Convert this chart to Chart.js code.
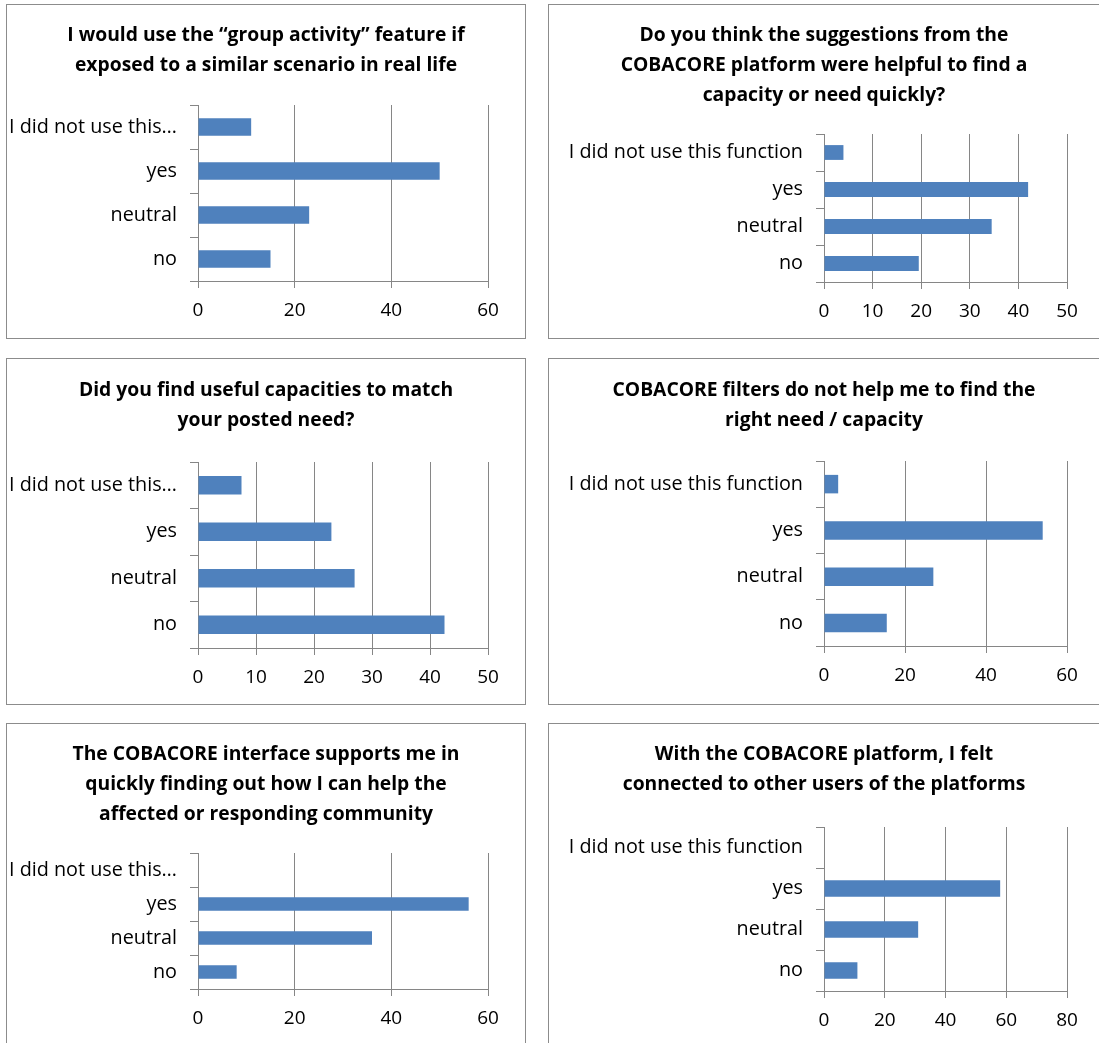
<!DOCTYPE html>
<html>
<head>
<meta charset="utf-8">
<script src="https://cdn.jsdelivr.net/npm/chart.js@4.4.1/dist/chart.umd.min.js"></script>
<style>
    body { margin: 0; background: #ffffff; width: 1099px; height: 1043px; overflow: hidden; position: relative; }
    .panel { position: absolute; border: 1px solid #8c8c8c; box-sizing: border-box; background: #fff; }
    .panel canvas { display: block; }
</style>
</head>
<body>
<div id="wrap"></div>
<script>
// categories (top to bottom as drawn)
let labelsFull = ["I did not use this function", "yes", "neutral", "no"];
let labelsShort = ["I did not use this\u2026", "yes", "neutral", "no"];

// series values
let groupActivity = [11, 50, 23, 15];
let suggestionsHelpful = [4, 42, 34.5, 19.5];
let usefulCapacities = [7.5, 23, 27, 42.5];
let filtersNoHelp = [3.5, 54, 27, 15.5];
let interfaceSupports = [0, 56, 36, 8];
let feltConnected = [0, 58, 31, 11];

// x axis ticks: [max, step]
let ticksGroup = [60, 20];
let ticksSuggest = [50, 10];
let ticksUseful = [50, 10];
let ticksFilters = [60, 20];
let ticksInterface = [60, 20];
let ticksConnected = [80, 20];

let titles = [
    ["I would use the \u201cgroup activity\u201d feature if", "exposed to a similar scenario in real life"],
    ["Do you think the suggestions from the", "COBACORE platform were helpful to find a", "capacity or need quickly?"],
    ["Did you find useful capacities to match", "your posted need?"],
    ["COBACORE filters do not help me to find the", "right need / capacity"],
    ["The COBACORE interface supports me in", "quickly finding out how I can help the", "affected or responding community"],
    ["With the COBACORE platform, I felt", "connected to other users of the platforms"],
];

var panels = [
    { box: [6, 4, 520, 335], plot: [198, 488, 105, 281], title1: 36, labels: labelsShort, data: groupActivity, ticks: ticksGroup, title: titles[0] },
    { box: [548, 4, 552, 335], plot: [824, 1067, 134, 282], title1: 36, labels: labelsFull, data: suggestionsHelpful, ticks: ticksSuggest, title: titles[1] },
    { box: [6, 358, 520, 347], plot: [198, 488, 462, 648], title1: 391, labels: labelsShort, data: usefulCapacities, ticks: ticksUseful, title: titles[2] },
    { box: [548, 358, 552, 347], plot: [824, 1067, 461, 646], title1: 391, labels: labelsFull, data: filtersNoHelp, ticks: ticksFilters, title: titles[3] },
    { box: [6, 723, 520, 335], plot: [198, 488, 853, 989], title1: 755, labels: labelsShort, data: interfaceSupports, ticks: ticksInterface, title: titles[4] },
    { box: [548, 723, 552, 335], plot: [824, 1067, 827, 991], title1: 755, labels: labelsFull, data: feltConnected, ticks: ticksConnected, title: titles[5] },
];

var lineH = 30;
var gridCol = "#868686";
var fontFam = "'Open Sans', Lato, sans-serif";

panels.forEach(function (p, n) {
    var div = document.createElement("div");
    div.className = "panel";
    div.style.left = p.box[0] + "px";
    div.style.top = p.box[1] + "px";
    div.style.width = p.box[2] + "px";
    div.style.height = p.box[3] + "px";
    var cv = document.createElement("canvas");
    var cw = p.box[2] - 2, ch = p.box[3] - 2;
    cv.width = cw;
    cv.height = ch;
    cv.style.width = cw + "px";
    cv.style.height = ch + "px";
    div.appendChild(cv);
    document.getElementById("wrap").appendChild(div);

    var ox = p.box[0] + 1, oy = p.box[1] + 1;
    var padTop = p.title1 - oy - lineH / 2;
    var padBot = p.plot[2] - (p.title1 - lineH / 2 + lineH * p.title.length);
    var rightGap = ox + cw - p.plot[1];

    new Chart(cv.getContext("2d"), {
        type: "bar",
        data: {
            labels: p.labels,
            datasets: [{
                data: p.data,
                backgroundColor: "#4F81BD",
                borderWidth: 0,
                barPercentage: 0.4,
                categoryPercentage: 1,
            }],
        },
        options: {
            indexAxis: "y",
            responsive: false,
            animation: false,
            devicePixelRatio: 1,
            layout: { padding: 0 },
            plugins: {
                legend: { display: false },
                tooltip: { enabled: false },
                title: {
                    display: true,
                    text: p.title,
                    color: "#000000",
                    font: { family: fontFam, size: 19.3, weight: "bold", lineHeight: lineH + "px" },
                    padding: { top: padTop, bottom: padBot },
                },
            },
            scales: {
                x: {
                    min: 0,
                    max: p.ticks[0],
                    ticks: { stepSize: p.ticks[1], color: "#000000", padding: 11, font: { family: fontFam, size: 19 } },
                    grid: { color: gridCol, tickLength: 7, drawOnChartArea: true },
                    border: { display: true, color: gridCol },
                    afterFit: function (scale) { scale.height = oy + ch - p.plot[3]; },
                },
                y: {
                    ticks: { color: "#000000", padding: 13, font: { family: fontFam, size: 19.8 } },
                    grid: { color: gridCol, tickLength: 8, offset: true, drawOnChartArea: false },
                    border: { display: true, color: gridCol },
                    afterFit: function (scale) { scale.width = p.plot[0] - ox; },
                },
                // empty right-hand axis, only keeps space so the title stays centred on the box
                yRight: {
                    type: "category",
                    position: "right",
                    ticks: { display: false },
                    grid: { display: false },
                    border: { display: false },
                    afterFit: function (scale) { scale.width = rightGap; },
                },
            },
        },
    });
});
</script>
</body>
</html>
